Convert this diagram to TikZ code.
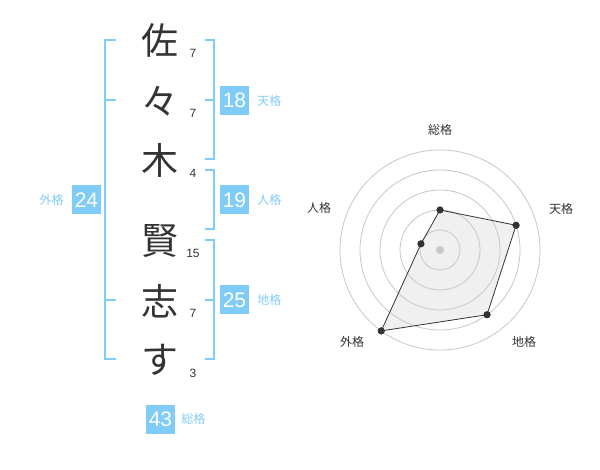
\documentclass[tikz,border=0pt]{standalone}
\usepackage{fontspec}
\setmainfont{Liberation Sans}
\newfontfamily\jp{Noto Sans CJK JP}
\usetikzlibrary{calc, positioning}
\definecolor{sky}{RGB}{128,204,248}
\definecolor{ink}{RGB}{51,51,51}
\tikzset{ kj/.style = { text       = ink
                      , inner sep  = 0pt
                      , font       = \jp\fontsize{37}{37}\selectfont
                      },
          sn/.style = { text       = ink
                      , inner sep  = 0pt
                      , font       = \fontsize{12}{12}\selectfont
                      },
          bx/.style = { fill         = sky
                      , text         = white
                      , inner sep    = 0pt
                      , minimum size = 29pt
                      , font         = \fontsize{21}{21}\selectfont
                      },
          lb/.style = { text       = sky
                      , inner sep  = 0pt
                      , font       = \jp\fontsize{12}{12}\selectfont
                      },
          ax/.style = { text       = ink
                      , inner sep  = 0pt
                      , font       = \jp\fontsize{12}{12}\selectfont
                      },
          br/.style = { draw = sky
                      , line width = 2pt
                      },
          pt/.style = { circle
                      , fill = ink
                      , inner sep    = 0pt
                      , minimum size = 7pt
                      }
        }
\begin{document}
\begin{tikzpicture}[x=1pt, y=-1pt]
    \useasboundingbox (0,0) rectangle (600,470);
    % name
    \node[kj] (c1) at (160,40)  {佐};
    \node[kj] (c2) at (160,101) {々};
    \node[kj] (c3) at (160,160) {木};
    \node[kj] (c4) at (160,241) {賢};
    \node[kj] (c5) at (160,301) {志};
    \node[kj] (c6) at (160,360) {す};
    \node[sn] (s1) at (193,53)  {7};
    \node[sn] (s2) at (193,113) {7};
    \node[sn] (s3) at (193,173) {4};
    \node[sn] (s4) at (193,253) {15};
    \node[sn] (s5) at (193,313) {7};
    \node[sn] (s6) at (193,373) {3};
    % brackets
    \draw[br] (116,40) -- (105,40) -- (105,359) -- (116,359);
    \draw[br] (105,100) -- (116,100) (105,300) -- (116,300);
    \draw[br] (205,40) -- (214,40) -- (214,159) -- (205,159);
    \draw[br] (214,100) -- (205,100);
    \draw[br] (205,170) -- (214,170) -- (214,229) -- (205,229);
    \draw[br] (205,240) -- (214,240) -- (214,359) -- (205,359);
    \draw[br] (214,300) -- (205,300);
    % scores
    \node[bx] (ten)  at (234.5,100.5) {18};
    \node[lb, right=8pt of ten] {天格};
    \node[bx] (jin)  at (234.5,200) {19};
    \node[lb, right=8pt of jin] {人格};
    \node[bx] (chi)  at (234.5,300) {25};
    \node[lb, right=8pt of chi] {地格};
    \node[bx] (gai)  at (86.5,200) {24};
    \node[lb, left=8pt of gai] {外格};
    \node[bx] (sou)  at (160.5,419) {43};
    \node[lb, right=6pt of sou] {総格};
    % chart
    \coordinate (o) at (440,250);
    \foreach \r in {20,40,...,100}
        \draw[black!22, line width=0.8pt] (o) circle (\r);
    \fill[black!22] (o) circle (4);
    \node[pt] (p1) at ($(o)+(-90:40)$)  {};
    \node[pt] (p2) at ($(o)+(-18:80)$)  {};
    \node[pt] (p3) at ($(o)+(54:80)$)   {};
    \node[pt] (p4) at ($(o)+(126:100)$) {};
    \node[pt] (p5) at ($(o)+(198:20)$)  {};
    \filldraw[fill=black!20, fill opacity=0.3, draw=ink, line width=0.8pt]
        (p1.center) -- (p2.center) -- (p3.center) -- (p4.center) -- (p5.center) -- cycle;
    \foreach \p in {p1,p2,p3,p4,p5}
        \fill[ink] (\p) circle (3.5);
    \node[ax] (a1) at (440,130) {総格};
    \node[ax] (a2) at (561,209) {天格};
    \node[ax] (a3) at (524,342) {地格};
    \node[ax] (a4) at (352,342) {外格};
    \node[ax] (a5) at (319,208) {人格};
\end{tikzpicture}
\end{document}
